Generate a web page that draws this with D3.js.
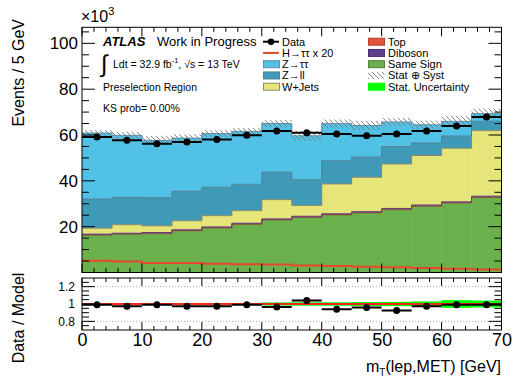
<!DOCTYPE html>
<html><head><meta charset="utf-8">
<script src="https://cdn.jsdelivr.net/npm/d3@7"></script>
<style>
html,body{margin:0;padding:0;background:#fff;}
text{font-family:"Liberation Sans",Arial,Helvetica,sans-serif;}
</style></head>
<body>
<script>
// ---------------- DATA (x10^3 events per 5 GeV) ----------------
const binEdges = [0,5,10,15,20,25,30,35,40,45,50,55,60,65,70];
const sameSign = [16.3,16.7,17.0,18.2,19.4,21.0,22.9,24.0,25.1,26.0,27.4,28.9,30.3,32.7];
const top_     = [0.15,0.15,0.15,0.15,0.2,0.2,0.2,0.2,0.2,0.2,0.2,0.2,0.2,0.2];
const diboson  = [0.3,0.3,0.3,0.3,0.3,0.3,0.3,0.35,0.35,0.35,0.35,0.35,0.35,0.4];
const wjets    = [2.6,3.7,2.9,3.9,4.9,5.5,8.4,4.7,13.0,15.0,19.4,21.6,23.4,28.6];
const zll      = [12.7,11.9,12.3,12.9,12.4,11.5,12.0,11.2,10.1,8.8,7.6,5.5,5.3,4.1];
const ztautau  = [28.8,27.1,25.0,23.2,23.4,23.1,21.2,19.2,16.2,13.8,10.7,7.9,6.4,3.3];
const dataVals = [59.1,57.7,56.2,56.9,58.0,59.9,61.8,61.0,60.4,59.7,60.4,61.8,63.9,67.9];
const htautau20= [5.1,4.8,4.2,4.1,3.8,3.6,3.5,3.1,2.8,2.5,2.3,2.0,1.6,1.3];
const systErr  = [1.3,1.5,2.0,1.6,1.5,1.4,1.5,2.2,1.8,2.0,1.8,1.8,2.4,2.2];
const ratioVals= [0.99,0.975,0.99,0.975,0.975,0.99,0.965,1.04,0.94,0.96,0.925,0.975,0.99,0.99];
const statRel  = [0.008,0.008,0.012,0.012,0.012,0.012,0.018,0.02,0.02,0.022,0.025,0.03,0.045,0.04];
const yTicksMain = [20,40,60,80,100];
const yTicksRatio = [0.8,1,1.2];
const xTicks = [0,10,20,30,40,50,60,70];

const layers = [
  {name:"Same Sign", vals:sameSign, color:"#6ab04c", stroke:"#55803f"},
  {name:"Top", vals:top_, color:"#e0533a", stroke:"#b04030"},
  {name:"Diboson", vals:diboson, color:"#5e3f8c", stroke:"#5e3f8c"},
  {name:"W+Jets", vals:wjets, color:"#e6e57a", stroke:"#8c8c6a"},
  {name:"Z→ll", vals:zll, color:"#3f9ab8", stroke:"#4f7f95"},
  {name:"Z→ττ", vals:ztautau, color:"#52c1e6", stroke:"#5a8fa8"}
];

// ---------------- SETUP ----------------
const W=513,H=379;
const svg = d3.select("body").append("svg").attr("width",W).attr("height",H)
  .style("display","block");
svg.append("rect").attr("width",W).attr("height",H).attr("fill","#fff");

const x = d3.scaleLinear().domain([0,70]).range([82,501.5]);
const y = d3.scaleLinear().domain([0,107]).range([272.5,27.3]);
const yr = d3.scaleLinear().domain([0.7,1.3]).range([330,278]);

const defs = svg.append("defs");
const pat = defs.append("pattern").attr("id","hatch").attr("patternUnits","userSpaceOnUse")
  .attr("width",5).attr("height",5);
pat.append("path").attr("d","M0,0L5,5M-1,4L1,6M4,-1L6,1").attr("stroke","#7a7a7a").attr("stroke-width",0.9);
defs.append("clipPath").attr("id","clipMain").append("rect")
  .attr("x",x(0)).attr("y",y(107)).attr("width",x(70)-x(0)).attr("height",y(0)-y(107));
defs.append("clipPath").attr("id","clipRatio").append("rect")
  .attr("x",x(0)).attr("y",yr(1.3)).attr("width",x(70)-x(0)).attr("height",yr(0.7)-yr(1.3));

const nb = binEdges.length-1;
const bins = d3.range(nb);

// ---------------- STACK ----------------
const main = svg.append("g").attr("clip-path","url(#clipMain)");
let cum = bins.map(()=>0);
const stackInfo = [];
layers.forEach(L=>{
  const lo = cum.slice();
  const hi = cum.map((c,i)=>c+L.vals[i]);
  stackInfo.push({L,lo,hi});
  cum = hi;
});
const total = cum;
stackInfo.forEach(({L,lo,hi})=>{
  main.append("g").selectAll("rect").data(bins).join("rect")
    .attr("x",i=>x(binEdges[i])).attr("width",i=>x(binEdges[i+1])-x(binEdges[i])+0.3)
    .attr("y",i=>y(hi[i])).attr("height",i=>y(lo[i])-y(hi[i]))
    .attr("fill",L.color);
});
const stepLine = d3.line().curve(d3.curveStepAfter).x(d=>x(d[0])).y(d=>y(d[1]));
function stepPts(arr){ const p=bins.map(i=>[binEdges[i],arr[i]]); p.push([binEdges[nb],arr[nb-1]]); return p; }
stackInfo.forEach(({L,hi})=>{
  main.append("path").attr("d",stepLine(stepPts(hi))).attr("fill","none")
    .attr("stroke",L.stroke).attr("stroke-width",1);
});
// hatch
main.append("g").selectAll("rect").data(bins).join("rect")
  .attr("x",i=>x(binEdges[i])).attr("width",i=>x(binEdges[i+1])-x(binEdges[i]))
  .attr("y",i=>y(total[i]+systErr[i])).attr("height",i=>y(total[i]-systErr[i])-y(total[i]+systErr[i]))
  .attr("fill","url(#hatch)");
// H line
main.append("path").attr("d",stepLine(stepPts(htautau20))).attr("fill","none")
  .attr("stroke","#e8472e").attr("stroke-width",2);
// data
const dg = main.append("g");
dg.selectAll("line").data(bins).join("line")
  .attr("x1",i=>x(binEdges[i])).attr("x2",i=>x(binEdges[i+1]))
  .attr("y1",i=>y(dataVals[i])).attr("y2",i=>y(dataVals[i]))
  .attr("stroke","#000").attr("stroke-width",2);
dg.selectAll("circle").data(bins).join("circle")
  .attr("cx",i=>x((binEdges[i]+binEdges[i+1])/2)).attr("cy",i=>y(dataVals[i])).attr("r",3.5).attr("fill","#000");

// ---------------- RATIO ----------------
const rg = svg.append("g").attr("clip-path","url(#clipRatio)");
[0.8,1.2].forEach(v=>{
  rg.append("line").attr("x1",x(0)).attr("x2",x(70)).attr("y1",yr(v)).attr("y2",yr(v))
    .attr("stroke","#aaa").attr("stroke-width",1).attr("stroke-dasharray","1,2");
});
rg.append("g").selectAll("rect").data(bins).join("rect")
  .attr("x",i=>x(binEdges[i])).attr("width",i=>x(binEdges[i+1])-x(binEdges[i])+0.3)
  .attr("y",i=>yr(1+statRel[i])).attr("height",i=>yr(1-statRel[i])-yr(1+statRel[i]))
  .attr("fill","#00ff00");
rg.append("line").attr("x1",x(0)).attr("x2",x(70)).attr("y1",yr(1)).attr("y2",yr(1))
  .attr("stroke","#ee2a1a").attr("stroke-width",2);
rg.append("g").selectAll("line").data(bins).join("line")
  .attr("x1",i=>x(binEdges[i])).attr("x2",i=>x(binEdges[i+1]))
  .attr("y1",i=>yr(ratioVals[i])).attr("y2",i=>yr(ratioVals[i]))
  .attr("stroke","#000").attr("stroke-width",2);
rg.append("g").selectAll("circle").data(bins).join("circle")
  .attr("cx",i=>x((binEdges[i]+binEdges[i+1])/2)).attr("cy",i=>yr(ratioVals[i])).attr("r",3.5).attr("fill","#000");

// ---------------- AXES / TICKS ----------------
function ticksX(yPos, dir, major, minor){
  const g = svg.append("g");
  d3.range(0,71,2).forEach(v=>{
    const isMaj = v%10===0;
    const len = isMaj?major:minor;
    g.append("line").attr("x1",x(v)).attr("x2",x(v)).attr("y1",yPos).attr("y2",yPos+dir*len)
      .attr("stroke","#000").attr("stroke-width",1);
  });
}
ticksX(y(0),-1,9,4.5);
ticksX(y(107),1,9,4.5);
ticksX(yr(1.3),1,8,4);
ticksX(yr(0.7),-1,8,4);

function ticksY(scale, vals, majorSet, major, minor){
  vals.forEach(v=>{
    const isMaj = majorSet(v);
    const len = isMaj?major:minor;
    svg.append("line").attr("x1",x(0)).attr("x2",x(0)+len).attr("y1",scale(v)).attr("y2",scale(v)).attr("stroke","#000");
    svg.append("line").attr("x1",x(70)).attr("x2",x(70)-len).attr("y1",scale(v)).attr("y2",scale(v)).attr("stroke","#000");
  });
}
ticksY(y, d3.range(5,106,5), v=>v%20===0, 13, 7);
ticksY(yr, [0.75,0.8,0.85,0.9,0.95,1.0,1.05,1.1,1.15,1.2,1.25], v=>[0.8,1.0,1.2].some(m=>Math.abs(m-v)<1e-6), 13, 7);

// frames
svg.append("rect").attr("x",x(0)).attr("y",y(107)).attr("width",x(70)-x(0)).attr("height",y(0)-y(107))
  .attr("fill","none").attr("stroke","#000").attr("stroke-width",1);
svg.append("rect").attr("x",x(0)).attr("y",yr(1.3)).attr("width",x(70)-x(0)).attr("height",yr(0.7)-yr(1.3))
  .attr("fill","none").attr("stroke","#000").attr("stroke-width",1);

// tick labels via d3 axes
const axY = svg.append("g").attr("transform",`translate(${x(0)},0)`)
  .call(d3.axisLeft(y).tickValues(yTicksMain).tickSize(0).tickPadding(4).tickFormat(d3.format("d")));
axY.select(".domain").remove();
axY.selectAll("text").attr("font-size",17).attr("font-family","Liberation Sans").attr("fill","#000");
const axR = svg.append("g").attr("transform",`translate(${x(0)},0)`)
  .call(d3.axisLeft(yr).tickValues(yTicksRatio).tickSize(0).tickPadding(7).tickFormat(d3.format("~g")));
axR.select(".domain").remove();
axR.selectAll("text").attr("font-size",12).attr("font-family","Liberation Sans").attr("fill","#000");
const axX = svg.append("g").attr("transform",`translate(0,${yr(0.7)})`)
  .call(d3.axisBottom(x).tickValues(xTicks).tickSize(0).tickPadding(3).tickFormat(d3.format("d")));
axX.select(".domain").remove();
axX.selectAll("text").attr("font-size",18).attr("font-family","Liberation Sans").attr("fill","#000");

// exponent label
const ex = svg.append("text").attr("x",81).attr("y",22).attr("font-size",16);
ex.append("tspan").text("×10");
ex.append("tspan").attr("font-size",11).attr("dy",-7).text("3");

// axis titles
svg.append("text").attr("transform","translate(24,19) rotate(-90)").attr("text-anchor","end")
  .attr("font-size",16).text("Events / 5 GeV");
svg.append("text").attr("transform","translate(24,318) rotate(-90)").attr("text-anchor","middle")
  .attr("font-size",16).text("Data / Model");
const xt = svg.append("text").attr("x",501).attr("y",372).attr("text-anchor","end").attr("font-size",16);
xt.append("tspan").text("m");
xt.append("tspan").attr("font-size",10).attr("dy",4).text("T");
xt.append("tspan").attr("dy",-4).text("(lep,MET) [GeV]");

// ATLAS labels
svg.append("text").attr("x",103).attr("y",46).attr("font-size",13).attr("font-weight","bold")
  .attr("font-style","italic").text("ATLAS");
svg.append("text").attr("x",157).attr("y",46).attr("font-size",13).text("Work in Progress");
svg.append("text").attr("x",101).attr("y",72).attr("font-size",24).text("∫");
const lt = svg.append("text").attr("x",113).attr("y",68).attr("font-size",10.5);
lt.append("tspan").text("Ldt = 32.9 fb");
lt.append("tspan").attr("font-size",7.5).attr("dy",-5).text("-1");
lt.append("tspan").attr("dy",5).text(", √s = 13 TeV");
svg.append("text").attr("x",103).attr("y",91).attr("font-size",10.5).text("Preselection Region");
svg.append("text").attr("x",103).attr("y",112).attr("font-size",10.5).text("KS prob= 0.00%");

// ---------------- LEGEND ----------------
const legLeft = [
  {label:"Data", type:"data"},
  {label:"H→ττ x 20", type:"line", color:"#e8472e"},
  {label:"Z→ττ", type:"box", color:"#52c1e6", stroke:"#5a8fa8"},
  {label:"Z→ll", type:"box", color:"#3f9ab8", stroke:"#4f7f95"},
  {label:"W+Jets", type:"box", color:"#e6e57a", stroke:"#8c8c6a"}
];
const legRight = [
  {label:"Top", type:"box", color:"#e0533a", stroke:"#b04030"},
  {label:"Diboson", type:"box", color:"#5e3f8c", stroke:"#4a3070"},
  {label:"Same Sign", type:"box", color:"#6ab04c", stroke:"#55803f"},
  {label:"Stat ⊕ Syst", type:"hatch"},
  {label:"Stat. Uncertainty", type:"box", color:"#00ff00", stroke:"#00ff00"}
];
function drawLegend(items, x0, tx){
  items.forEach((it,k)=>{
    const cy = 41.7 + k*11.25;
    const g = svg.append("g");
    if(it.type==="data"){
      g.append("line").attr("x1",x0).attr("x2",x0+16).attr("y1",cy).attr("y2",cy).attr("stroke","#000").attr("stroke-width",2);
      g.append("circle").attr("cx",x0+8).attr("cy",cy).attr("r",3.2).attr("fill","#000");
    } else if(it.type==="line"){
      g.append("line").attr("x1",x0).attr("x2",x0+16).attr("y1",cy).attr("y2",cy).attr("stroke",it.color).attr("stroke-width",2);
    } else if(it.type==="hatch"){
      g.append("rect").attr("x",x0).attr("y",cy-3.5).attr("width",16.5).attr("height",7).attr("fill","url(#hatch)");
    } else {
      g.append("rect").attr("x",x0+0.5).attr("y",cy-3.5).attr("width",16).attr("height",7)
        .attr("fill",it.color).attr("stroke",it.stroke).attr("stroke-width",1);
    }
    g.append("text").attr("x",tx).attr("y",cy+4).attr("font-size",11).text(it.label);
  });
}
drawLegend(legLeft, 263, 282);
drawLegend(legRight, 368, 388);
</script>
</body></html>
